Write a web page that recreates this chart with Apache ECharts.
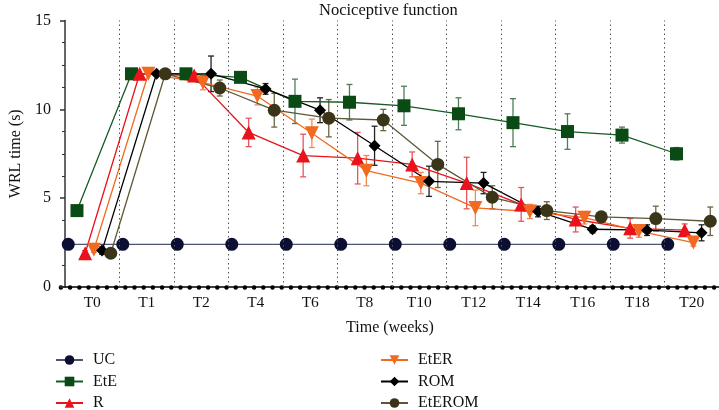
<!DOCTYPE html>
<html>
<head>
<meta charset="utf-8">
<script src="https://cdn.jsdelivr.net/npm/echarts@6/dist/echarts.min.js"></script>
<style>
  html, body { margin: 0; padding: 0; background: #fff; }
  #chart { width: 719px; height: 410px; }
</style>
</head>
<body>
<div id="chart"></div>
<script>
var categories = ['T0', 'T1', 'T2', 'T4', 'T6', 'T8', 'T10', 'T12', 'T14', 'T16', 'T18', 'T20'];

// group means (s)
var uc     = [2.4, 2.4, 2.4, 2.4, 2.4, 2.4, 2.4, 2.4, 2.4, 2.4, 2.4, 2.4];
var ete    = [4.3, 12.0, 12.0, 11.8, 10.45, 10.4, 10.2, 9.75, 9.25, 8.75, 8.55, 7.5];
var r      = [1.9, 12.0, 11.9, 8.7, 7.4, 7.25, 6.9, 5.85, 4.65, 3.8, 3.3, 3.2];
var eter   = [2.1, 12.0, 11.5, 10.75, 8.65, 6.55, 5.85, 4.45, 4.25, 3.9, 3.15, 2.5];
var rom    = [2.05, 12.0, 12.0, 11.15, 9.95, 7.95, 5.95, 5.85, 4.25, 3.25, 3.2, 3.05];
var eterom = [1.9, 12.0, 11.2, 9.95, 9.5, 9.4, 6.9, 5.05, 4.3, 3.95, 3.85, 3.7];

// error bars (s)
var eteErr    = [0.3, 0, 0.15, 0.15, 1.25, 1.0, 1.1, 0.9, 1.35, 1.0, 0.45, 0.35];
var rErr      = [0.15, 0, 0.15, 0.8, 1.2, 1.45, 0.7, 1.45, 0.95, 0.7, 0.55, 0.35];
var eterErr   = [0.15, 0, 0.4, 0.5, 0.8, 0.85, 0.6, 1.0, 0.4, 0.35, 0.35, 0.2];
var romErr    = [0.2, 0, 1.0, 0.3, 0.7, 1.1, 0.85, 0.6, 0.3, 0.2, 0.3, 0.45];
var eteromErr = [0.15, 0, 0.45, 0.95, 1.05, 0.6, 1.3, 0.65, 0.5, 0.25, 0.7, 0.8];

var FONT = 'Liberation Serif';

function pts(vals, off) {
    return vals.map(function (v, i) { return [i + off, v]; });
}

function lineSeries(name, vals, off, color, lineColor, symbol, size, rotate) {
    return {
        name: name,
        type: 'line',
        data: pts(vals, off),
        symbol: symbol,
        symbolSize: size,
        symbolRotate: rotate || 0,
        z: 3,
        lineStyle: { color: lineColor, width: 1.3 },
        itemStyle: { color: color, borderWidth: 0 }
    };
}

function errSeries(name, vals, errs, off, color) {
    return {
        name: name + ' err',
        type: 'custom',
        z: 2,
        data: vals.map(function (v, i) { return [i + off, v - errs[i], v + errs[i]]; }),
        encode: { x: 0, y: [1, 2] },
        renderItem: function (params, api) {
            var lo = api.coord([api.value(0), api.value(1)]);
            var hi = api.coord([api.value(0), api.value(2)]);
            var w = 3;
            var st = { stroke: color, lineWidth: 1.3 };
            return {
                type: 'group',
                children: [
                    { type: 'line', shape: { x1: lo[0], y1: lo[1], x2: hi[0], y2: hi[1] }, style: st },
                    { type: 'line', shape: { x1: lo[0] - w, y1: lo[1], x2: lo[0] + w, y2: lo[1] }, style: st },
                    { type: 'line', shape: { x1: hi[0] - w, y1: hi[1], x2: hi[0] + w, y2: hi[1] }, style: st }
                ]
            };
        }
    };
}

var labelVals = categories.map(function (c, i) { return i + 0.5; });
var sepLines = [];
for (var k = 1; k < categories.length; k++) sepLines.push({ xAxis: k });

var ucS = lineSeries('UC', uc, 0.06, '#0b1033', '#4d5470', 'circle', 13);
ucS.markLine = {
    silent: true,
    symbol: 'none',
    label: { show: false },
    lineStyle: { type: [1.5, 3], color: '#555', width: 1 },
    data: sepLines
};

var legendText = { fontFamily: FONT, fontSize: 16, color: '#111', padding: [0, 0, 0, 5] };

var option = {
    animation: false,
    title: {
        text: 'Nociceptive function',
        left: 314,
        top: -3,
        textStyle: { fontFamily: FONT, fontSize: 16.5, fontWeight: 'normal', color: '#111' }
    },
    grid: { left: 53, right: 0, top: 20.5, bottom: 123 },
    legend: [
        {
            data: ['UC', 'EtE', 'R'],
            orient: 'vertical',
            left: 50, top: 347, height: 100,
            itemWidth: 27, itemHeight: 12, itemGap: 5.5,
            textStyle: legendText
        },
        {
            data: ['EtER', 'ROM', 'EtEROM'],
            orient: 'vertical',
            left: 375, top: 347, height: 100,
            itemWidth: 27, itemHeight: 12, itemGap: 5.5,
            textStyle: legendText
        }
    ],
    xAxis: [
        {
            type: 'value',
            min: -0.075, max: 12,
            name: 'Time (weeks)',
            nameLocation: 'middle',
            nameGap: 33,
            nameTextStyle: { fontFamily: FONT, fontSize: 16, color: '#111' },
            axisLine: { onZero: false, lineStyle: { color: '#000', width: 1.5 } },
            axisTick: { show: false },
            splitLine: { show: false },
            axisLabel: {
                customValues: labelVals,
                margin: 8,
                fontFamily: FONT, fontSize: 15.5, color: '#111',
                formatter: function (v) { return categories[Math.round(v - 0.5)]; }
            }
        },
        {
            type: 'value',
            min: -0.075, max: 12,
            position: 'bottom',
            axisLine: { onZero: false, lineStyle: { color: '#000', width: 4.5, type: [0, 9.2], cap: 'round' } },
            axisTick: { show: false },
            axisLabel: { show: false },
            splitLine: { show: false }
        }
    ],
    yAxis: {
        type: 'value',
        min: 0, max: 15, interval: 5,
        name: 'WRL time (s)',
        nameLocation: 'middle',
        nameGap: 36,
        nameTextStyle: { fontFamily: FONT, fontSize: 16, color: '#111' },
        axisLine: { show: true, lineStyle: { color: '#333', width: 1.5 } },
        axisTick: { show: true, length: 5, lineStyle: { color: '#333', width: 1.5 } },
        minorTick: { show: true, splitNumber: 4, length: 3, lineStyle: { color: '#333', width: 1 } },
        splitLine: { show: false },
        axisLabel: { fontFamily: FONT, fontSize: 16, color: '#111', margin: 10 }
    },
    series: [
        errSeries('EtE', ete, eteErr, 0.22, '#4e7d58'),
        errSeries('R', r, rErr, 0.37, '#e8555b'),
        errSeries('EtER', eter, eterErr, 0.53, '#f08a55'),
        errSeries('ROM', rom, romErr, 0.68, '#222'),
        errSeries('EtEROM', eterom, eteromErr, 0.84, '#6b6540'),
        ucS,
        lineSeries('EtE', ete, 0.22, '#0a4a14', '#165a24', 'rect', 13),
        lineSeries('R', r, 0.37, '#e8131b', '#e8131b', 'triangle', 14),
        lineSeries('EtER', eter, 0.53, '#f26a21', '#f26a21', 'triangle', 14, 180),
        lineSeries('ROM', rom, 0.68, '#000', '#000', 'diamond', 12),
        lineSeries('EtEROM', eterom, 0.84, '#3a3518', '#5e5734', 'circle', 13)
    ]
};

var myChart = echarts.init(document.getElementById('chart'));
myChart.setOption(option);
</script>
</body>
</html>
